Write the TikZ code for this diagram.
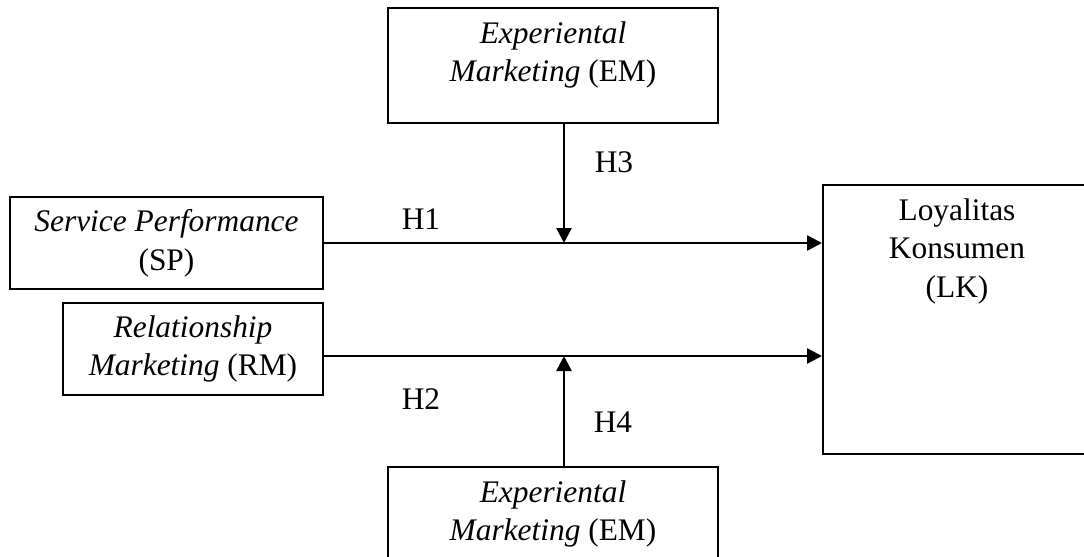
\documentclass[tikz,border=0pt]{standalone}
\usepackage{fontspec}
\setmainfont{Liberation Serif}
\usetikzlibrary{arrows.meta,positioning}
\tikzset{
  frame/.style={draw=black, line width=1pt, inner sep=0pt, align=center},
  boxtext/.style={inner sep=0pt, align=center},
  flow/.style={-{Triangle[length=7.5pt,width=7.5pt]}, line width=1.3pt},
  hyp/.style={inner sep=0pt}
}

\begin{document}
\begin{tikzpicture}[x=0.5pt,y=-0.5pt,font=\fontsize{15.7}{19.3}\selectfont]
  \useasboundingbox (0,0) rectangle (1084,557);
  \clip (0,0) rectangle (1084,557);
  % variables
  \node[frame,minimum width=165pt,minimum height=57.5pt] (em1) at (553,65.5) {};
  \node[boxtext,below=7pt of em1.north] (em1t) {\textit{Experiental}\\\textit{Marketing} (EM)};
  \node[frame,minimum width=156.5pt,minimum height=46pt] (sp) at (166.5,243)
    {\textit{Service Performance}\\(SP)};
  \node[frame,minimum width=130pt,minimum height=46pt] (rm) at (193,349)
    {\textit{Relationship}\\\textit{Marketing} (RM)};
  \node[frame,minimum width=134pt,minimum height=134.5pt] (lk) at (957,319.5) {};
  \node[boxtext,below=7pt of lk.north] (lkt) {Loyalitas\\Konsumen\\(LK)};
  \node[frame,minimum width=165pt,minimum height=57.5pt] (em2) at (553,524.5) {};
  \node[boxtext,below=7pt of em2.north] (em2t) {\textit{Experiental}\\\textit{Marketing} (EM)};
  % junctions on the paths
  \coordinate (j1) at (564,243);
  \coordinate (j2) at (564,356);
  % paths
  \draw[flow] (sp.east) -- (sp.east -| lk.west);
  \draw[flow] (rm.east |- j2) -- (j2 -| lk.west);
  \draw[flow] (em1.south -| j1) -- (j1);
  \draw[flow] (em2.north -| j2) -- (j2);
  % hypotheses
  \node[hyp] (h1) at (421,219) {H1};
  \node[hyp] (h2) at (421,399) {H2};
  \node[hyp] (h3) at (614,162) {H3};
  \node[hyp] (h4) at (613,422) {H4};
\end{tikzpicture}
\end{document}
